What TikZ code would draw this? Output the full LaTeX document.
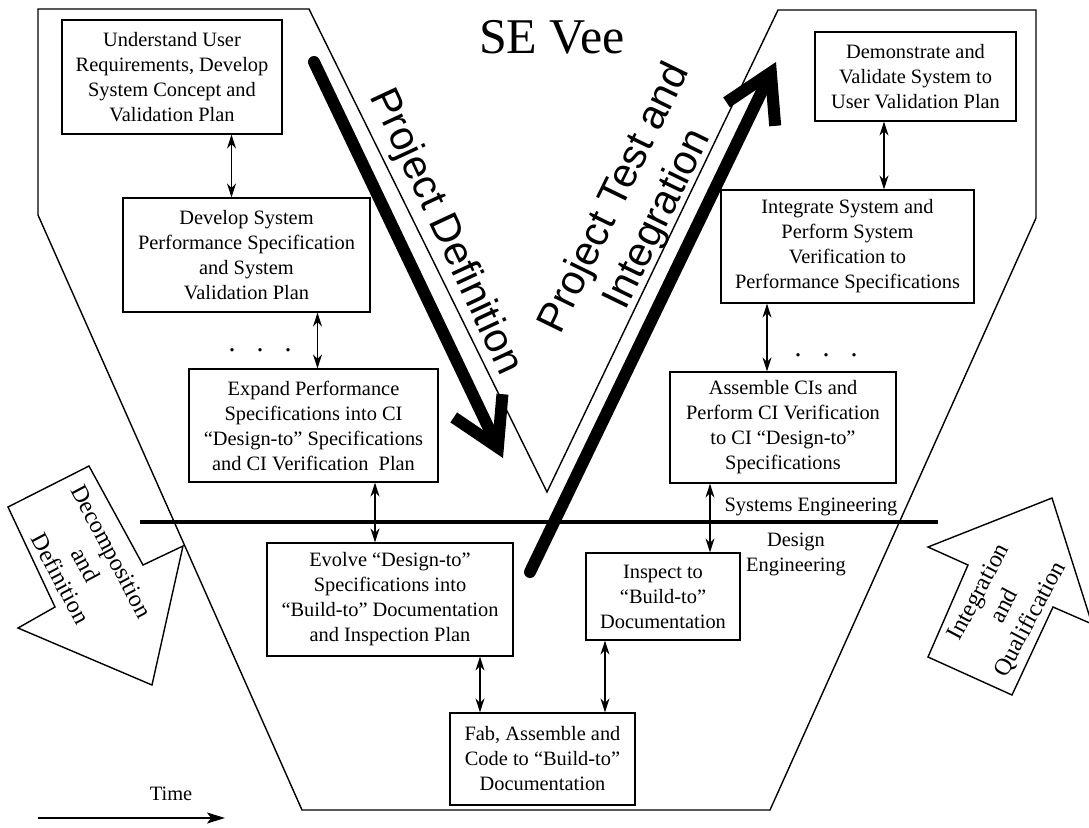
\documentclass[tikz,border=0pt]{standalone}
\usepackage{fontspec}
\setmainfont{Liberation Serif}
\newfontfamily\bigsans{Liberation Sans}
\usetikzlibrary{arrows.meta}
\newcommand\boxfont{\fontsize{10.2}{12.5}\selectfont}

\begin{document}
\begin{tikzpicture}[x=0.5pt, y=-0.5pt,
    box/.style={draw, line width=0.6pt, inner sep=0pt, align=center, font=\boxfont},
    dbl/.style={{Stealth[length=7pt,width=4.5pt]}-{Stealth[length=7pt,width=4.5pt]}, line width=0.6pt},
    bigarrow/.style={line width=6pt, line cap=round, -{Straight Barb[length=23pt,width=27pt]}},
    biglabel/.style={font=\bigsans\fontsize{20.5}{24}\selectfont, align=center},
    sidelabel/.style={font=\fontsize{12}{14.5}\selectfont, align=center},
    vee/.style={line width=0.7pt, line join=miter}]
    \useasboundingbox (0,0) rectangle (1089,827);

    % Vee outline
    \draw[vee] (38,9) -- (309,9) -- (547,492) -- (778,10) -- (1036,10) -- (1036,218)
        -- (770,810) -- (302,810) -- (38,215) -- cycle;
    % SE / design split
    \draw[line width=1.8pt] (140,522) -- (938,522);
    \node[font=\fontsize{25}{30}\selectfont] (title) at (552,37) {SE Vee};

    % left leg
    \node[box, minimum width=110pt, minimum height=57pt] (b1) at (172,77)
        {Understand User\\Requirements, Develop\\System Concept and\\Validation Plan};
    \node[box, minimum width=123.5pt, minimum height=57pt] (b2) at (246.5,255)
        {Develop System\\Performance Specification\\and System\\Validation Plan};
    \node[box, minimum width=124.5pt, minimum height=56.5pt] (b3) at (313.5,425.5)
        {Expand Performance\\Specifications into CI\\``Design-to'' Specifications\\and CI Verification\ \ Plan};
    \node[box, minimum width=123pt, minimum height=56.5pt] (b4) at (390,599.5)
        {Evolve ``Design-to''\\Specifications into\\``Build-to'' Documentation\\and Inspection Plan};
    % bottom
    \node[box, minimum width=92.5pt, minimum height=46pt] (b5) at (542.5,759)
        {Fab, Assemble and\\Code to ``Build-to''\\Documentation};
    % right leg
    \node[box, minimum width=77pt, minimum height=43.5pt] (b6) at (663,596.5)
        {Inspect to\\``Build-to''\\Documentation};
    \node[box, minimum width=113pt, minimum height=55.5pt] (b7) at (783,427.5)
        {Assemble CIs and\\Perform CI Verification\\to CI ``Design-to''\\Specifications};
    \node[box, minimum width=126.5pt, minimum height=56.5pt] (b8) at (847.5,246.5)
        {Integrate System and\\Perform System\\Verification to\\Performance Specifications};
    \node[box, minimum width=100.5pt, minimum height=44.5pt] (b9) at (915.5,76.5)
        {Demonstrate and\\Validate System to\\User Validation Plan};

    % two-way links (upper box / lower box / x)
    \foreach \u/\l/\x in {b1/b2/231.5, b2/b3/317.5, b3/b4/375, b4/b5/480,
                         b6/b5/605, b7/b6/710, b8/b7/767, b9/b8/884} {
        \draw[dbl] (\u.south -| \x,0) -- (\l.north -| \x,0);
    }
    \node[font=\fontsize{14}{14}\selectfont] (dotsL) at (260,350) {.\hspace{10.5pt}.\hspace{10.5pt}.};
    \node[font=\fontsize{14}{14}\selectfont] (dotsR) at (826,355) {.\hspace{10.5pt}.\hspace{10.5pt}.};

    \node[font=\boxfont] (se) at (811,507) {Systems Engineering};
    \node[font=\boxfont, align=center] (de) at (796,554) {Design\\Engineering};

    % big arrows
    \coordinate (pdA) at (314,62);
    \coordinate (pdB) at (503,458);
    \draw[bigarrow] (pdA) -- (pdB);
    \node[biglabel, rotate=-65] (pdL) at (445,232) {Project Definition};
    \coordinate (ptA) at (530,572);
    \coordinate (ptB) at (776,62);
    \draw[bigarrow] (ptA) -- (ptB);
    \node[biglabel, rotate=64] (ptL) at (637,209) {Project Test and\\Integration};

    % side block arrows
    \draw[vee] (8,507) -- (89,466) -- (143,565) -- (183,546) -- (152,685) -- (18,628) -- (55,607) -- cycle;
    \node[sidelabel, rotate=-62] (decL) at (86,565) {Decomposition\\and\\Definition};
    \draw[vee] (928,657) -- (968,565) -- (928,547) -- (1052,498) -- (1092,624) -- (1053,607) -- (1012,695) -- cycle;
    \node[sidelabel, rotate=62] (intL) at (1005,606) {Integration\\and\\Qualification};

    % time axis
    \coordinate (tA) at (38,818);
    \coordinate (tB) at (225,818);
    \draw[line width=0.7pt, -{Stealth[length=9pt,width=5.5pt,inset=2pt]}] (tA) -- (tB);
    \node[font=\boxfont] (time) at (171,794) {Time};
\end{tikzpicture}
\end{document}
